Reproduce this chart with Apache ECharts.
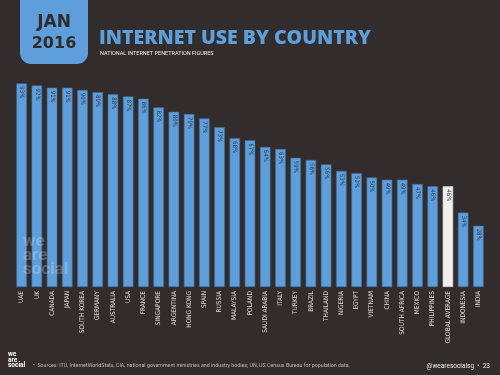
<!DOCTYPE html>
<html>
<head>
<meta charset="utf-8">
<script src="https://cdn.jsdelivr.net/npm/echarts@6/dist/echarts.min.js"></script>
<style>
html,body{margin:0;padding:0;background:#322d2c;}
#c{width:500px;height:375px;}
</style>
</head>
<body>
<div id="c"></div>
<script>
var countries = ['UAE','UK','CANADA','JAPAN','SOUTH KOREA','GERMANY','AUSTRALIA','USA','FRANCE','SINGAPORE','ARGENTINA','HONG KONG','SPAIN','RUSSIA','MALAYSIA','POLAND','SAUDI ARABIA','ITALY','TURKEY','BRAZIL','THAILAND','NIGERIA','EGYPT','VIETNAM','CHINA','SOUTH AFRICA','MEXICO','PHILIPPINES','GLOBAL AVERAGE','INDONESIA','INDIA'];
var penetration = [93,92,91,91,90,89,88,87,86,82,80,79,77,73,68,67,64,63,59,58,56,53,52,50,49,49,47,46,46,34,28];
var highlightCategory = 'GLOBAL AVERAGE';

var chart = echarts.init(document.getElementById('c'), null, {renderer:'canvas'});
var barBlue = '#5e9edb';
var data = penetration.map(function(v, i){
  var hl = countries[i] === highlightCategory;
  return {value: v, itemStyle: {color: hl ? '#f0efec' : barBlue, borderColor: hl ? '#cfcfcf' : '#3f6f9c', borderWidth: 0.6}};
});

chart.setOption({
  backgroundColor: '#322d2c',
  animation: false,
  grid: {left: 14, right: 14, top: 68, bottom: 88},
  xAxis: {
    type: 'category', data: countries,
    axisLine: {show: false}, axisTick: {show: false},
    axisLabel: {interval: 0, rotate: 90, color: '#dcdcdc', fontSize: 6.5, margin: 4,
      fontFamily: 'Liberation Sans Narrow, DejaVu Sans Condensed, sans-serif'}
  },
  yAxis: {type: 'value', min: 0, max: 100, show: false, splitLine: {show: false}},
  series: [{
    type: 'bar', data: data, barWidth: 10.5,
    label: {show: true, position: [5.5, 3], rotate: -90, align: 'left', verticalAlign: 'middle',
      formatter: '{c}%', color: '#2c3a4a', fontSize: 6,
      fontFamily: 'Liberation Sans Narrow, DejaVu Sans Condensed, sans-serif'}
  }],
  graphic: [
    {type: 'rect', left: 20, top: -10, shape: {width: 68, height: 74, r: [0,0,11,11]}, style: {fill: '#5e9edb'}, z: 10},
    {type: 'text', x: 54, y: 23, style: {text: 'JAN', fill: '#2f2c2b', font: 'bold 17px DejaVu Sans, sans-serif', textAlign: 'center', textVerticalAlign: 'middle'}, z: 11},
    {type: 'text', x: 54, y: 44, style: {text: '2016', fill: '#2f2c2b', font: 'bold 16px DejaVu Sans, sans-serif', textAlign: 'center', textVerticalAlign: 'middle'}, z: 11},
    {type: 'text', x: 99, y: 38, style: {text: 'INTERNET USE BY COUNTRY', fill: '#5e9edb', font: '800 19.5px Open Sans, sans-serif', textVerticalAlign: 'middle'}, z: 11},
    {type: 'text', x: 100, y: 54, style: {text: 'NATIONAL INTERNET PENETRATION FIGURES', fill: '#e8e8e8', font: '5.5px Roboto, sans-serif', textVerticalAlign: 'middle'}, z: 11},
    {type: 'text', x: 23, y: 235, style: {text: 'we\nare\nsocial', fill: 'rgba(255,255,255,0.22)', font: 'bold 17px Roboto, sans-serif', lineHeight: 14}, z: 20},
    {type: 'text', x: 8, y: 352, style: {text: 'we\nare\nsocial', fill: '#ffffff', font: 'bold 6.5px Roboto, sans-serif', lineHeight: 5.5}, z: 11},
    {type: 'text', x: 33, y: 366, style: {text: '•  Sources: ITU, InternetWorldStats, CIA, national government ministries and industry bodies; UN, US Census Bureau for population data.', fill: '#b8b8b8', font: '5.3px Roboto, sans-serif', textVerticalAlign: 'middle'}, z: 11},
    {type: 'text', x: 490, y: 366, style: {text: '@wearesocialsg  •  23', fill: '#e8e8e8', font: '6.5px Roboto, sans-serif', textAlign: 'right', textVerticalAlign: 'middle'}, z: 11}
  ]
});
</script>
</body>
</html>
